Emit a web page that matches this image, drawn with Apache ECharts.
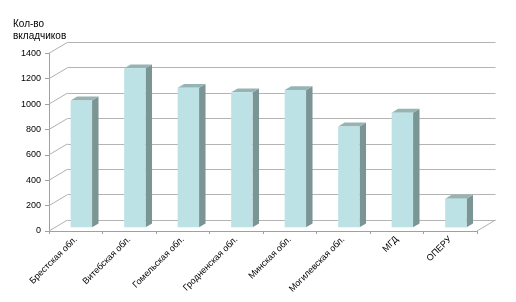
<!DOCTYPE html>
<html>
<head>
<meta charset="utf-8">
<script src="https://cdn.jsdelivr.net/npm/echarts@6/dist/echarts.min.js"></script>
<style>html,body{margin:0;padding:0;background:#fff}#c{width:516px;height:302px}</style>
</head>
<body>
<div id="c"></div>
<script>
var categories = ['Брестская обл.', 'Витебская обл.', 'Гомельская обл.', 'Гродненская обл.', 'Минская обл.', 'Могилевская обл.', 'МГД', 'ОПЕРУ'];
var values = [1000, 1253, 1100, 1064, 1082, 795, 904, 226];
var yTicks = [0, 200, 400, 600, 800, 1000, 1200, 1400];
var yTitle = 'Кол-во\nвкладчиков';

var DX = 18.5, DY = -11;        // wall depth offset
var F1 = 0.33, F2 = 0.68;       // bar front / back depth fraction
var FONT = 'Liberation Sans, Arial, sans-serif';

var chart = echarts.init(document.getElementById('c'), null, {renderer: 'canvas'});

function wallRender(params, api) {
  var cs = params.coordSys;
  var v = api.value(0);
  var p = api.coord([0, v]);
  var x0 = cs.x;
  var children = [{
    type: 'line',
    shape: {x1: x0, y1: p[1], x2: x0 + DX, y2: p[1] + DY},
    style: {stroke: '#B0B0B0', lineWidth: 1}
  }];
  if (v === 0) {
    children.push({
      type: 'line',
      shape: {x1: cs.x + cs.width, y1: p[1], x2: cs.x + cs.width + DX, y2: p[1] + DY},
      style: {stroke: '#B0B0B0', lineWidth: 1}
    });
  }
  return {type: 'group', children: children};
}

function barRender(params, api) {
  var idx = api.value(0);
  var top = api.coord([idx, api.value(1)]);
  var base = api.coord([idx, 0]);
  var band = api.size([1, 0])[0];
  var bw = band * 0.4;
  var fx = DX * F1, fy = DY * F1;
  var dx = DX * (F2 - F1), dy = DY * (F2 - F1);
  var x1 = top[0] - bw / 2 + fx - 0.5;
  var x2 = x1 + bw;
  var yt = top[1] + fy;
  var yb = base[1] + fy;
  return {
    type: 'group',
    children: [
      {type: 'polygon', shape: {points: [[x2, yt], [x2 + dx, yt + dy], [x2 + dx, yb + dy], [x2, yb]]},
       style: {fill: '#7A9594', stroke: null}},
      {type: 'polygon', shape: {points: [[x1, yt], [x1 + dx, yt + dy], [x2 + dx, yt + dy], [x2, yt]]},
       style: {fill: '#97B4B4', stroke: null}},
      {type: 'rect', shape: {x: x1, y: yt, width: bw, height: yb - yt},
       style: {fill: '#BCE2E6', stroke: null}}
    ]
  };
}

var option = {
  animation: false,
  graphic: [{
    type: 'text', left: 13, top: 18,
    style: {text: yTitle, fontFamily: FONT, fontSize: 10, fill: '#000', lineHeight: 12}
  }],
  grid: [
    {left: 49, right: 39, top: 53.3, bottom: 71},
    {left: 49 + DX, right: 39 - DX, top: 53.3 + DY, bottom: 71 - DY}
  ],
  xAxis: [
    {type: 'category', gridIndex: 0, data: categories, boundaryGap: true,
     axisLine: {show: true, lineStyle: {color: '#A0A0A0'}},
     axisTick: {show: true, length: 3, lineStyle: {color: '#A0A0A0'}},
     axisLabel: {rotate: 45, fontFamily: FONT, fontSize: 9, color: '#000', margin: 7, interval: 0},
     splitLine: {show: false}},
    {type: 'category', gridIndex: 1, data: categories, show: false}
  ],
  yAxis: [
    {type: 'value', gridIndex: 0, min: 0, max: 1400, interval: 200,
     axisLine: {show: true, lineStyle: {color: '#A0A0A0'}},
     axisTick: {show: true, length: 4, lineStyle: {color: '#A0A0A0'}},
     axisLabel: {fontFamily: FONT, fontSize: 9, color: '#000', margin: 8,
                 formatter: function (v) { return String(v); }},
     splitLine: {show: false}},
    {type: 'value', gridIndex: 1, min: 0, max: 1400, interval: 200,
     axisLine: {show: false}, axisTick: {show: false}, axisLabel: {show: false},
     splitLine: {show: true, lineStyle: {color: '#B4B4B4', width: 1}}}
  ],
  series: [
    {type: 'custom', xAxisIndex: 0, yAxisIndex: 0, renderItem: wallRender,
     data: yTicks.map(function (v) { return [v]; }), encode: {y: 0}, silent: true, z: 1},
    {type: 'custom', xAxisIndex: 0, yAxisIndex: 0, renderItem: barRender,
     data: values.map(function (v, i) { return [i, v]; }), encode: {x: 0, y: 1}, z: 3}
  ]
};
chart.setOption(option);
</script>
</body>
</html>
